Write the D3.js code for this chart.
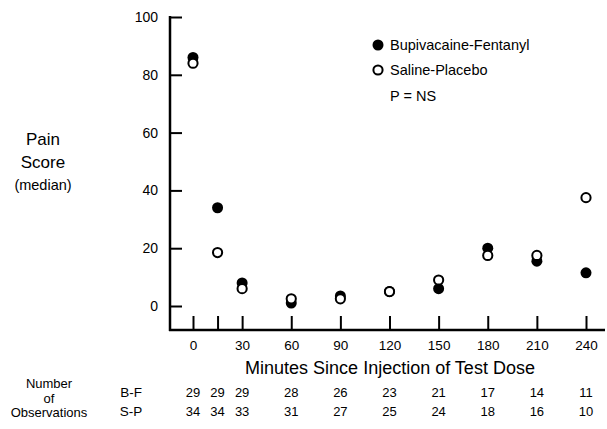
<!DOCTYPE html>
<html>
<head>
<meta charset="utf-8">
<script src="https://d3js.org/d3.v7.min.js"></script>
<style>
 body {margin: 0; background: #fff;}
 svg {display: block; font-family: "Liberation Sans", Arial, sans-serif;}
</style>
</head>
<body>
<div id="chart"></div>
<script>
// minutes since injection of test dose
var times = [0, 15, 30, 60, 90, 120, 150, 180, 210, 240];
// median pain scores
var bupiFent = [86, 34, 8, 1, 3.5, 5, 6, 20, 15.5, 11.5];
var salinePlacebo = [84, 18.5, 6, 2.5, 2.5, 5, 9, 17.5, 17.5, 37.5];
// number of observations
var nBF = [29, 29, 29, 28, 26, 23, 21, 17, 14, 11];
var nSP = [34, 34, 33, 31, 27, 25, 24, 18, 16, 10];
var yTicks = [0, 20, 40, 60, 80, 100];
var xLabels = [0, 30, 60, 90, 120, 150, 180, 210, 240];

var width = 607, height = 429;
var svg = d3.select("#chart").append("svg")
  .attr("width", width).attr("height", height);

var x = d3.scaleLinear().domain([0, 240]).range([193, 586]);
var y = d3.scaleLinear().domain([0, 100]).range([306, 17]);
var axisX = 170, axisY = 330;

// y axis
var gy = svg.append("g").attr("transform", "translate(" + axisX + ",0)")
  .call(d3.axisLeft(y).tickValues(yTicks).tickSize(-12).tickPadding(12));
gy.select(".domain").remove();
gy.selectAll(".tick line").attr("stroke", "#000").attr("stroke-width", 2);
gy.selectAll(".tick text").attr("font-size", 14).attr("fill", "#000")
  .attr("font-family", "Liberation Sans, Arial, sans-serif");
svg.append("line").attr("x1", axisX).attr("x2", axisX)
  .attr("y1", y(100) - 1).attr("y2", axisY + 1)
  .attr("stroke", "#000").attr("stroke-width", 2.5);

// x axis
var gx = svg.append("g").attr("transform", "translate(0," + axisY + ")")
  .call(d3.axisBottom(x).tickValues(times).tickSize(-14).tickPadding(10)
    .tickFormat(function(d) { return xLabels.indexOf(d) >= 0 ? d : ""; }));
gx.select(".domain").remove();
gx.selectAll(".tick line").attr("stroke", "#000").attr("stroke-width", 2);
gx.selectAll(".tick text").attr("font-size", 13.5).attr("fill", "#000")
  .attr("font-family", "Liberation Sans, Arial, sans-serif");
svg.append("line").attr("x1", axisX - 1).attr("x2", 605)
  .attr("y1", axisY).attr("y2", axisY)
  .attr("stroke", "#000").attr("stroke-width", 2.5);

// points: filled first, open on top
svg.selectAll(".bf").data(times).enter().append("circle")
  .attr("class", "bf")
  .attr("cx", function(d) { return x(d); })
  .attr("cy", function(d, i) { return y(bupiFent[i]); })
  .attr("r", 5.5).attr("fill", "#000");
svg.selectAll(".sp").data(times).enter().append("circle")
  .attr("class", "sp")
  .attr("cx", function(d) { return x(d); })
  .attr("cy", function(d, i) { return y(salinePlacebo[i]); })
  .attr("r", 4.6).attr("fill", "#fff").attr("stroke", "#000").attr("stroke-width", 2);

// legend
svg.append("circle").attr("cx", 378).attr("cy", 45).attr("r", 5.5).attr("fill", "#000");
svg.append("circle").attr("cx", 378).attr("cy", 70).attr("r", 4.6)
  .attr("fill", "#fff").attr("stroke", "#000").attr("stroke-width", 2);
svg.append("text").attr("x", 390).attr("y", 50).attr("font-size", 14.5).text("Bupivacaine-Fentanyl");
svg.append("text").attr("x", 390).attr("y", 75).attr("font-size", 14.5).text("Saline-Placebo");
svg.append("text").attr("x", 390).attr("y", 101).attr("font-size", 14.5).text("P = NS");

// y title
svg.append("text").attr("x", 43).attr("y", 145).attr("font-size", 17)
  .attr("text-anchor", "middle").text("Pain");
svg.append("text").attr("x", 43).attr("y", 168).attr("font-size", 17)
  .attr("text-anchor", "middle").text("Score");
svg.append("text").attr("x", 43).attr("y", 190).attr("font-size", 14.5)
  .attr("text-anchor", "middle").text("(median)");

// x title
svg.append("text").attr("x", 390).attr("y", 374).attr("font-size", 18)
  .attr("text-anchor", "middle").text("Minutes Since Injection of Test Dose");

// observation counts
svg.selectAll(".nbf").data(times).enter().append("text")
  .attr("x", function(d) { return x(d); }).attr("y", 397)
  .attr("text-anchor", "middle").attr("font-size", 13)
  .text(function(d, i) { return nBF[i]; });
svg.selectAll(".nsp").data(times).enter().append("text")
  .attr("x", function(d) { return x(d); }).attr("y", 416)
  .attr("text-anchor", "middle").attr("font-size", 13)
  .text(function(d, i) { return nSP[i]; });
svg.append("text").attr("x", 131).attr("y", 397).attr("font-size", 13.5)
  .attr("text-anchor", "middle").text("B-F");
svg.append("text").attr("x", 131).attr("y", 416).attr("font-size", 13.5)
  .attr("text-anchor", "middle").text("S-P");
svg.append("text").attr("x", 49).attr("y", 388).attr("font-size", 13)
  .attr("text-anchor", "middle").text("Number");
svg.append("text").attr("x", 49).attr("y", 402.5).attr("font-size", 13)
  .attr("text-anchor", "middle").text("of");
svg.append("text").attr("x", 49).attr("y", 417).attr("font-size", 13)
  .attr("text-anchor", "middle").text("Observations");
</script>
</body>
</html>
